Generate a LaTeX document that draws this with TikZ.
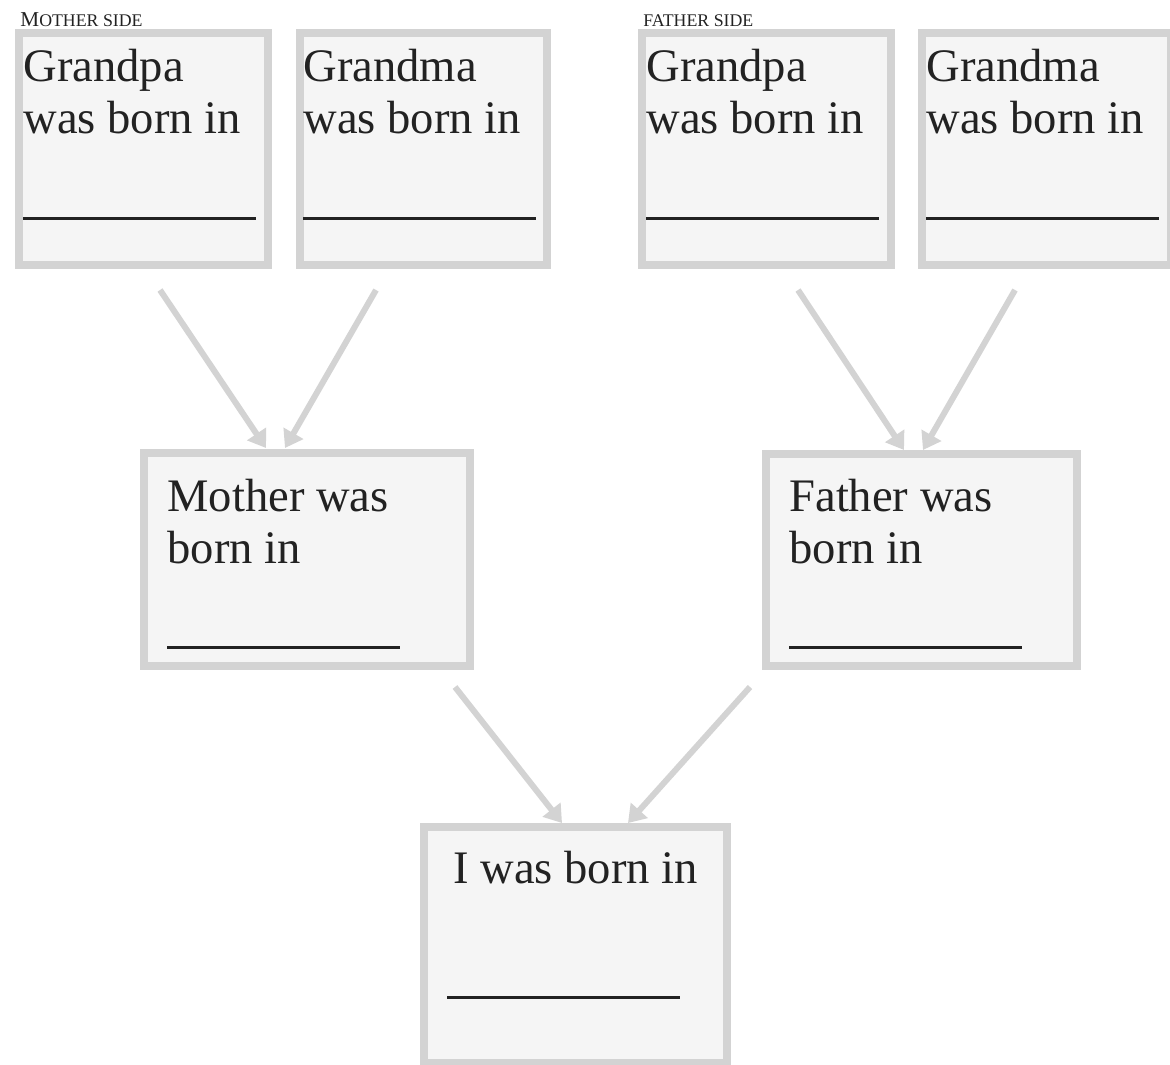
\documentclass[tikz,border=0pt]{standalone}
\usepackage{fontspec}
\setmainfont{Liberation Serif}
\usetikzlibrary{arrows.meta,calc}
\definecolor{cardline}{HTML}{D3D3D3}
\definecolor{cardfill}{HTML}{F5F5F5}
\definecolor{inktext}{HTML}{222222}
\tikzset{
    birthtree/.style={
        card/.style={draw=cardline, fill=cardfill, line width=4pt, inner sep=0pt},
        cardtext/.style={anchor=base west, align=left, inner sep=0pt, text=inktext,
            font=\fontsize{23.3}{26}\selectfont},
        sidelabel/.style={anchor=base west, inner sep=0pt, text=inktext},
        link/.style={draw=cardline, line width=3pt, -{Triangle[width=11pt, length=8.5pt]}},
    },
}
\newcommand{\blankline}{\rule{116.5pt}{1.5pt}}

\begin{document}
\begin{tikzpicture}[birthtree, x=0.5pt, y=-0.5pt]
    \useasboundingbox (0,0) rectangle (1170,1064);

    % side labels
    \node[sidelabel] (mside) at (20,27)
        {{\fontsize{10.6}{12}\selectfont M}{\fontsize{8.9}{10}\selectfont OTHER SIDE}};
    \node[sidelabel] (fside) at (643,27) {\fontsize{8.9}{10}\selectfont FATHER SIDE};

    % grandparents (text nodes sit on the baseline of their blank line)
    \node[card, minimum width=124.5pt, minimum height=116pt] (gpam) at (143.5,149)  {};
    \node[card, minimum width=123.5pt, minimum height=116pt] (gmam) at (423.5,149)  {};
    \node[card, minimum width=124.5pt, minimum height=116pt] (gpaf) at (766.5,149)  {};
    \node[card, minimum width=124.5pt, minimum height=116pt] (gmaf) at (1046.5,149) {};
    \node[cardtext] (gpam-text) at (23,219.5)  {Grandpa\\was born in\\[16.75pt]\blankline};
    \node[cardtext] (gmam-text) at (303,219.5) {Grandma\\was born in\\[16.75pt]\blankline};
    \node[cardtext] (gpaf-text) at (646,219.5) {Grandpa\\was born in\\[16.75pt]\blankline};
    \node[cardtext] (gmaf-text) at (926,219.5) {Grandma\\was born in\\[16.75pt]\blankline};

    % parents
    \node[card, minimum width=163pt, minimum height=106.5pt] (mother) at (307,559.5) {};
    \node[card, minimum width=155.5pt, minimum height=106pt] (father) at (921.5,560) {};
    \node[cardtext] (mother-text) at (167,648.5) {Mother was\\born in\\[16.75pt]\blankline};
    \node[cardtext] (father-text) at (789,648.5) {Father was\\born in\\[16.75pt]\blankline};

    % me
    \node[card, minimum width=151.5pt, minimum height=118pt] (me) at (575.5,945) {};
    \node[cardtext] (me-text) at (453,998.5) {I was born in\\[31.75pt]\hspace*{-3pt}\blankline};

    \draw[link] ($(gpam.south)+(16.5,21)$)  -- ($(mother.north)+(-41,-1)$);
    \draw[link] ($(gmam.south)+(-47.5,21)$) -- ($(mother.north)+(-22,-1)$);
    \draw[link] ($(gpaf.south)+(31.5,21)$)  -- ($(father.north)+(-17.5,0)$);
    \draw[link] ($(gmaf.south)+(-31.5,21)$) -- ($(father.north)+(1.5,0)$);
    \draw[link] ($(mother.south)+(148,17)$)   -- ($(me.north)+(-13.5,0)$);
    \draw[link] ($(father.south)+(-171.5,17)$) -- ($(me.north)+(52.5,0)$);
\end{tikzpicture}
\end{document}
